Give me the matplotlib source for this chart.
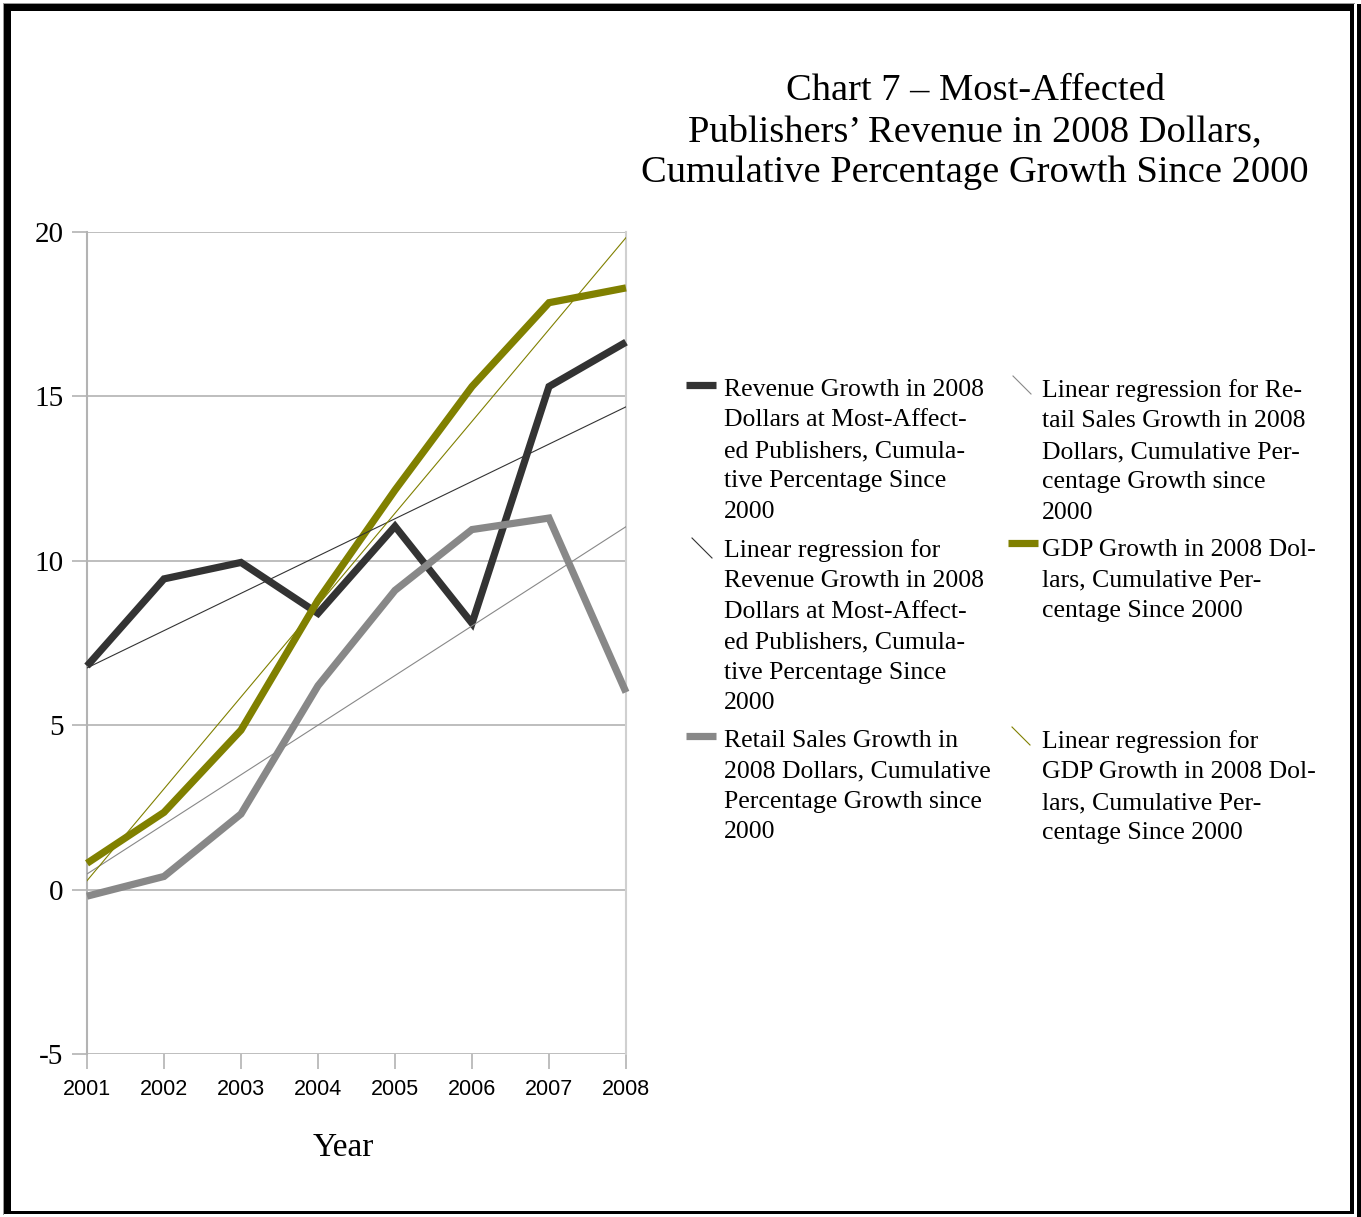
"""
plot.py — Chart 7: most-affected publishers' revenue vs GDP and retail sales,
cumulative percentage growth since 2000 (2008 dollars). Writes out.png.
"""
import numpy as np
import matplotlib
matplotlib.use("Agg")
import matplotlib.pyplot as plt
from matplotlib.lines import Line2D
from matplotlib.patches import Rectangle

W, H, DPI = 1361, 1217, 100

# ---- data ----------------------------------------------------------------
years = [2001, 2002, 2003, 2004, 2005, 2006, 2007, 2008]
revenue = [6.8, 9.45, 9.95, 8.4, 11.05, 8.1, 15.3, 16.65]
retail = [-0.2, 0.4, 2.3, 6.2, 9.1, 10.95, 11.3, 6.0]
gdp = [0.8, 2.35, 4.85, 8.8, 12.15, 15.3, 17.85, 18.3]

yticks = [-5, 0, 5, 10, 15, 20]

title = ("Chart 7 – Most-Affected\n"
         "Publishers’ Revenue in 2008 Dollars,\n"
         "Cumulative Percentage Growth Since 2000")

lab_rev = ("Revenue Growth in 2008\nDollars at Most-Affect-\ned Publishers, Cumula-\n"
           "tive Percentage Since\n2000")
lab_rev_fit = ("Linear regression for\nRevenue Growth in 2008\nDollars at Most-Affect-\n"
               "ed Publishers, Cumula-\ntive Percentage Since\n2000")
lab_ret = "Retail Sales Growth in\n2008 Dollars, Cumulative\nPercentage Growth since\n2000"
lab_ret_fit = ("Linear regression for Re-\ntail Sales Growth in 2008\n"
               "Dollars, Cumulative Per-\ncentage Growth since\n2000")
lab_gdp = "GDP Growth in 2008 Dol-\nlars, Cumulative Per-\ncentage Since 2000"
lab_gdp_fit = "Linear regression for\nGDP Growth in 2008 Dol-\nlars, Cumulative Per-\ncentage Since 2000"

# ---- style ---------------------------------------------------------------
DARK, GRAY, OLIVE = "#333333", "#888888", "#808000"
GRID = "#b3b3b3"
SERIF = ["Liberation Serif", "DejaVu Serif"]
SANS = ["Liberation Sans", "DejaVu Sans"]


def fx(px):
    return px / W


def fy(py):
    return 1 - py / H


fig = plt.figure(figsize=(W / DPI, H / DPI), dpi=DPI)
fig.patch.set_facecolor("white")

# plot area in pixels: x 87..626, y 232..1054
ax = fig.add_axes([fx(87), fy(1054), fx(626) - fx(87), fy(232) - fy(1054)])
ax.set_xlim(years[0], years[-1])
ax.set_ylim(-5, 20)
ax.set_yticks(yticks)
ax.set_xticks(years)
ax.set_yticklabels([str(v) for v in yticks], family=SERIF, fontsize=21)
ax.set_xticklabels([str(v) for v in years], family=SANS, fontsize=15.5)
ax.tick_params(axis="both", color=GRID, length=11, width=1.2)
ax.tick_params(axis="x", pad=7)
ax.tick_params(axis="y", pad=6)
for s in ax.spines.values():
    s.set_visible(False)
ax.spines["left"].set_visible(True)
ax.spines["left"].set_color(GRID)
ax.spines["left"].set_linewidth(1.5)
ax.spines["right"].set_visible(True)
ax.spines["right"].set_color("#d0d0d0")
ax.spines["right"].set_linewidth(1.5)
for v in yticks:
    ax.axhline(v, color=GRID, linewidth=1.2, zorder=1)

x = np.array(years, dtype=float)
series = [(revenue, DARK), (retail, GRAY), (gdp, OLIVE)]
for vals, col in series:
    ax.plot(x, vals, color=col, linewidth=5.2, solid_capstyle="butt",
            solid_joinstyle="miter", zorder=3, clip_on=False)
    k, b = np.polyfit(x, vals, 1)
    ax.plot(x[[0, -1]], k * x[[0, -1]] + b, color=col, linewidth=0.8, zorder=4)

fig.text(fx(343), fy(1148), "Year", ha="center", va="center", family=SERIF, fontsize=24)

# ---- title ---------------------------------------------------------------
fig.text(fx(975), fy(73), title, ha="center", va="top", family=SERIF,
         fontsize=27.7, linespacing=1.26)

# ---- legend (two columns, drawn by hand) ---------------------------------
def bar(x0, x1, y, col):
    fig.add_artist(Line2D([fx(x0), fx(x1)], [fy(y), fy(y)], color=col,
                          linewidth=5.2, solid_capstyle="butt"))


def diag(x0, y0, x1, y1, col):
    fig.add_artist(Line2D([fx(x0), fx(x1)], [fy(y0), fy(y1)], color=col, linewidth=0.8))


def label(xp, yp, s):
    fig.text(fx(xp), fy(yp), s, ha="left", va="top", family=SERIF,
             fontsize=18.5, linespacing=1.5)


bar(686, 716, 385, DARK)
label(724, 379, lab_rev)
diag(692, 538, 712, 558, DARK)
label(724, 539, lab_rev_fit)
bar(686, 716, 736, GRAY)
label(724, 730, lab_ret)

diag(1013, 376, 1031, 394, GRAY)
label(1042, 379, lab_ret_fit)
bar(1008, 1038, 543, OLIVE)
label(1042, 539, lab_gdp)
diag(1012, 727, 1030, 745, OLIVE)
label(1042, 730, lab_gdp_fit)

# ---- page frame ----------------------------------------------------------
def block(x0, y0, x1, y1, col="black"):
    fig.add_artist(Rectangle((fx(x0), fy(y1)), fx(x1) - fx(x0), fy(y0) - fy(y1),
                             facecolor=col, edgecolor="none", transform=fig.transFigure))


block(3, 3, 1355, 4, "#999999")
block(3, 3, 4, 1215, "#999999")
block(4, 4, 1354, 11)
block(4, 4, 11, 1214)
block(1350, 4, 1354, 1214)
block(4, 1211, 1354, 1214)
block(1357, 4, 1361, 1217)

fig.savefig("out.png", dpi=DPI)
